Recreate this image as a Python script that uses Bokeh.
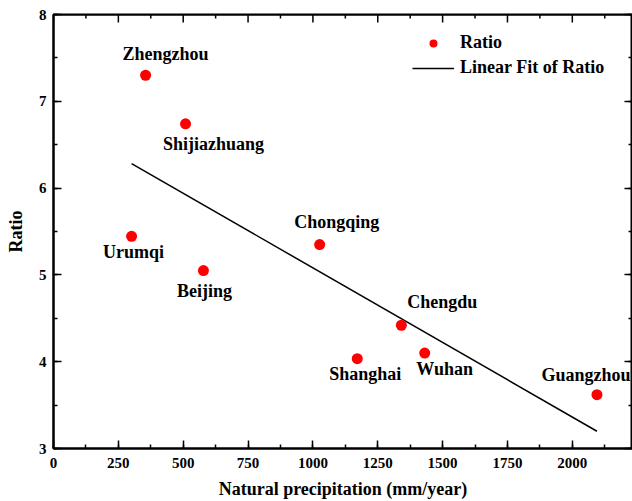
import numpy as np
from bokeh.plotting import figure
from bokeh.models import (LinearAxis, SingleIntervalTicker, Range1d, Legend,
                          LegendItem, ColumnDataSource, Span)
from bokeh.core.properties import value
from bokeh.embed import file_html
from bokeh.resources import INLINE

# ---- data ----
cities = ["Zhengzhou", "Shijiazhuang", "Urumqi", "Beijing", "Chongqing",
          "Shanghai", "Chengdu", "Wuhan", "Guangzhou"]
precipitation = [355, 509, 301, 578, 1026, 1171, 1341, 1431, 2095]
ratio = [7.30, 6.74, 5.445, 5.05, 5.35, 4.035, 4.42, 4.10, 3.62]
x_tick_step = 250
y_tick_step = 1
x_min, x_max = 0, 2232
y_min, y_max = 3, 8

# label placement (screen px, relative to point)
label_dx = [20, 28, 2, 1, 17, 8, 41, 20, -11]
label_dy = [-21, 20, 16, 20, -23, 15, -23, 16, -20]

# linear fit of ratio
slope, intercept = np.polyfit(precipitation, ratio, 1)
fit_x = [min(precipitation), max(precipitation)]
fit_y = [slope * v + intercept for v in fit_x]

FONT = value("Liberation Serif")

p = figure(width=632, height=501, x_range=Range1d(x_min, x_max), y_range=Range1d(y_min, y_max),
           output_backend="svg", toolbar_location=None, title=None,
           min_border_left=53, min_border_top=14, min_border_right=0, min_border_bottom=53)
p.grid.visible = False
p.outline_line_color = "black"
p.outline_line_width = 2
p.background_fill_color = "white"
p.border_fill_color = "white"

src = ColumnDataSource(dict(x=precipitation, y=ratio, name=cities, dx=label_dx, dy=label_dy))

ln = p.line(fit_x, fit_y, line_color="black", line_width=1.5)
sc = p.scatter("x", "y", source=src, size=11, fill_color="#ff0000", line_color=None)
p.text("x", "y", text="name", x_offset="dx", y_offset="dy", source=src,
       text_align="center", text_baseline="middle", text_font=FONT,
       text_font_style="bold", text_font_size="18px", text_color="black")

def style_axis(ax, ticker):
    ax.ticker = ticker
    ax.axis_line_width = 2
    ax.axis_line_color = "black"
    ax.major_tick_in = 8
    ax.major_tick_out = 0
    ax.minor_tick_in = 4
    ax.minor_tick_out = 0
    ax.major_tick_line_width = 1.5
    ax.minor_tick_line_width = 1.5
    ax.major_tick_line_color = "black"
    ax.minor_tick_line_color = "black"
    ax.major_label_text_font = "Liberation Serif"
    ax.major_label_text_font_style = "bold"
    ax.major_label_text_font_size = "15px"
    ax.major_label_text_color = "black"

xt = lambda: SingleIntervalTicker(interval=x_tick_step, num_minor_ticks=2)
yt = lambda: SingleIntervalTicker(interval=y_tick_step, num_minor_ticks=2)

xa = p.xaxis[0]
style_axis(xa, xt())
xa.major_label_standoff = 9
xa.axis_label = "Natural precipitation (mm/year)"
xa.axis_label_standoff = 8

ya = p.yaxis[0]
style_axis(ya, yt())
ya.major_label_standoff = 7
ya.axis_label = "Ratio"
ya.axis_label_standoff = 10

for ax in (xa, ya):
    ax.axis_label_text_font = "Liberation Serif"
    ax.axis_label_text_font_style = "bold"
    ax.axis_label_text_font_size = "18px"
    ax.axis_label_text_color = "black"

# right-side ticks (inward)
right = LinearAxis()
style_axis(right, yt())
right.axis_line_color = None
right.major_label_text_font_size = "1px"
right.major_label_text_color = None
right.major_label_standoff = 0
p.add_layout(right, "right")

# top frame line with inward ticks (half of each dash is clipped by the frame)
p.add_layout(Span(location=y_max, dimension="width", line_color="black", line_width=2))
top_major = np.arange(x_min, x_max + 1, x_tick_step)
top_minor = top_major + x_tick_step / 2
top_minor = top_minor[top_minor <= x_max]
p.scatter(top_major, [y_max] * len(top_major), marker="dash", size=16, angle=np.pi / 2,
          line_color="black", line_width=1.5)
p.scatter(top_minor, [y_max] * len(top_minor), marker="dash", size=8, angle=np.pi / 2,
          line_color="black", line_width=1.5)

legend = Legend(items=[LegendItem(label="Ratio", renderers=[sc]),
                       LegendItem(label="Linear Fit of Ratio", renderers=[ln])],
                location=(359, 370), glyph_width=42, glyph_height=20,
                label_height=20, spacing=4, padding=0, margin=0,
                border_line_color=None, background_fill_alpha=0,
                label_text_font="Liberation Serif", label_text_font_style="bold",
                label_text_font_size="18px", label_text_color="black",
                label_standoff=6)
p.add_layout(legend)

open("out.html", "w").write(file_html(p, INLINE))
